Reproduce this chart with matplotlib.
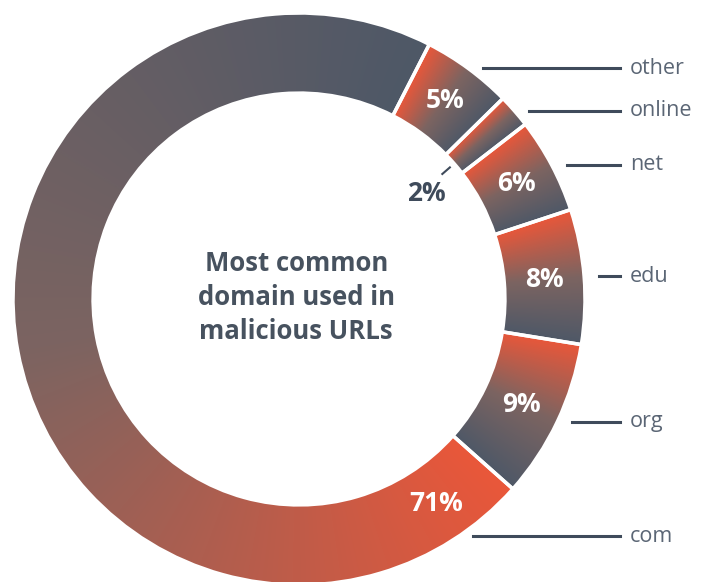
import numpy as np
import matplotlib.pyplot as plt
from matplotlib.colors import LinearSegmentedColormap

# ==== datos ====
dominios = ["other", "online", "net", "edu", "org", "com"]
cuotas = [5.1, 1.9, 5.4, 7.6, 9.0, 70.9]
etiquetas = ["5%", "2%", "6%", "8%", "9%", "71%"]
titulo = "Most common\ndomain used in\nmalicious URLs"

naranja = "#E9573A"
marron = "#7C6461"
pizarra = "#4E5867"
texto_oscuro = "#3F4B5B"
texto_gris = "#5B6675"
gradiente = LinearSegmentedColormap.from_list("grad", [naranja, marron, pizarra])

plt.rcParams['font.family'] = ['Open Sans', 'DejaVu Sans']

# ==== figura: 1 unidad = radio exterior (286 px), centro en (299, 299) px ====
W, H, R, cx, cy = 707, 582, 286, 299, 299
fig = plt.figure(figsize=(W / 100, H / 100), dpi=100)
ax = fig.add_axes([0, 0, 1, 1])

ancho = 0.28
wedges, _ = ax.pie(cuotas, startangle=90 - 27.1, counterclock=False, radius=1,
                   wedgeprops=dict(width=ancho, facecolor='none',
                                   edgecolor='white', linewidth=2.5))
x0, x1 = -cx / R, (W - cx) / R
y0, y1 = -(H - cy) / R, cy / R
ax.set_xlim(x0, x1)
ax.set_ylim(y0, y1)
ax.set_aspect('auto')
ax.axis('off')

# rejilla para el degradado angular de cada cuña
gx, gy = np.meshgrid(np.linspace(x0, x1, 1400), np.linspace(y0, y1, 1150))
phi = np.degrees(np.arctan2(gy, gx)) % 360

for w in wedges:
    w.set_zorder(3)
    t = ((w.theta2 - phi) % 360) / (w.theta2 - w.theta1)
    img = ax.imshow(gradiente(np.clip(t, 0, 1)), extent=(x0, x1, y0, y1),
                    origin='lower', interpolation='bilinear', zorder=2, aspect='auto')
    img.set_clip_path(w)

# ==== etiquetas ====
r_med = 1 - ancho / 2
for i, w in enumerate(wedges):
    if dominios[i] == "com":
        ang = w.theta2 - 14.5          # la etiqueta grande va cerca del inicio
    else:
        ang = (w.theta1 + w.theta2) / 2
    a = np.radians(ang)
    if dominios[i] == "online":
        b = a - np.radians(1.5)
        ax.text(0.58 * np.cos(b), 0.58 * np.sin(b), etiquetas[i], ha='center', va='center',
                fontsize=19, fontweight='bold', color=texto_oscuro, zorder=4)
        ax.plot([0.665 * np.cos(a), 0.70 * np.cos(a)], [0.665 * np.sin(a), 0.70 * np.sin(a)],
                color=texto_oscuro, lw=1.5, zorder=4)
    else:
        ax.text(r_med * np.cos(a), r_med * np.sin(a), etiquetas[i], ha='center', va='center',
                fontsize=19, fontweight='bold', color='white', zorder=4)

    # línea y nombre del dominio a la derecha
    yl = np.sin(a)
    xs = np.sqrt(1 - yl ** 2) + 0.052
    ax.plot([xs, 1.122], [yl, yl], color=texto_oscuro, lw=2.2, zorder=4)
    ax.text(1.157, yl, dominios[i], ha='left', va='center', fontsize=15.5,
            color=texto_gris, zorder=4)

ax.text(-0.01, 0.005, titulo, ha='center', va='center', fontsize=18.5, fontweight='bold',
        color="#47525F", linespacing=1.33, zorder=4)

fig.savefig("out.png", dpi=100)
